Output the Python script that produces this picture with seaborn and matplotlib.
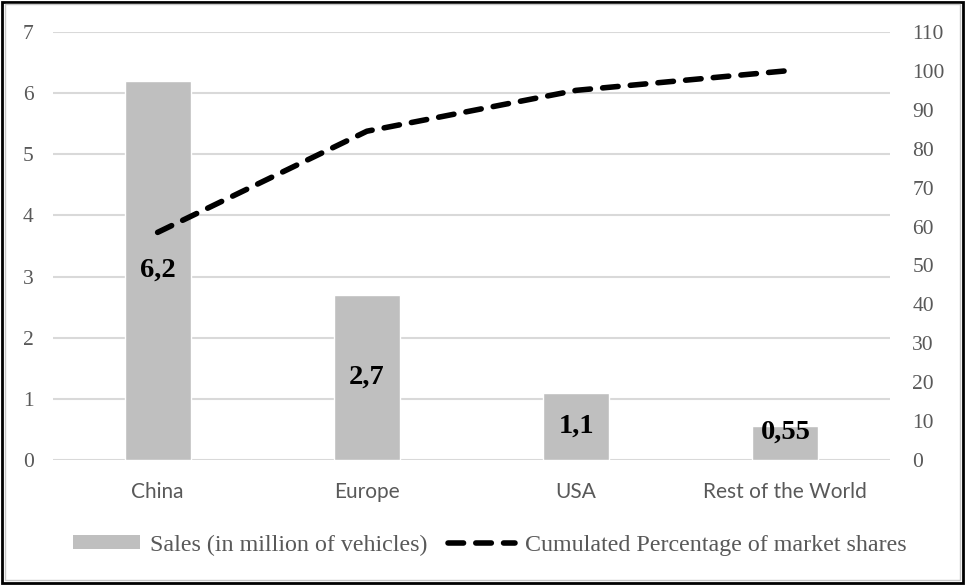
import numpy as np
import pandas as pd
import matplotlib
matplotlib.use("Agg")
import matplotlib.pyplot as plt
import seaborn as sns
from matplotlib.patches import Rectangle, Patch
from matplotlib.lines import Line2D

categories = ["China", "Europe", "USA", "Rest of the World"]
sales = [6.2, 2.7, 1.1, 0.55]
cum_pct = [58.5, 84.5, 95.0, 100.0]
sales_labels = ["6,2", "2,7", "1,1", "0,55"]
left_ticks = [0, 1, 2, 3, 4, 5, 6, 7]
right_ticks = [0, 10, 20, 30, 40, 50, 60, 70, 80, 90, 100, 110]

sns.set_theme(style="white")
plt.rcParams["font.family"] = ["Liberation Serif", "DejaVu Serif"]

df = pd.DataFrame({"cat": categories, "sales": sales, "pos": np.arange(len(categories)), "cum": cum_pct})

fig = plt.figure(figsize=(9.65, 5.85), dpi=100)
ax = fig.add_axes([53 / 965, 1 - 460 / 585, (890 - 53) / 965, (460 - 32) / 585])

sns.barplot(data=df, x="cat", y="sales", color="#bfbfbf", saturation=1, width=0.315, ax=ax, zorder=2)
ax.set_xlim(-0.5, 3.5)
ax.set_ylim(0, 7)
ax.set_yticks(left_ticks)
ax.yaxis.grid(True, color="#d9d9d9", linewidth=1.5, zorder=0)
ax.set_axisbelow(True)
ax.set_xlabel("")
ax.set_ylabel("")
for s in ax.spines.values():
    s.set_visible(False)
ax.tick_params(axis="y", length=0, pad=14, labelsize=15.5, labelcolor="#595959")
ax.tick_params(axis="x", length=0, pad=16, labelcolor="#595959")
for lab in ax.get_xticklabels():
    lab.set_fontfamily("Lato")
    lab.set_fontsize(15)

for i, (v, t) in enumerate(zip(sales, sales_labels)):
    ax.text(i, max(v / 2, 0.45), t, ha="center", va="center", fontsize=20.5,
            fontweight="bold", color="black", zorder=5)

ax2 = ax.twinx()
sns.lineplot(data=df, x="pos", y="cum", ax=ax2, color="black", linewidth=4.0,
             dashes=False, zorder=4)
ln = ax2.get_lines()[0]
ln.set_dashes((2.8, 2.2))
ln.set_dash_capstyle("round")
ax2.set_ylim(0, 110)
ax2.set_yticks(right_ticks)
ax2.set_xlim(-0.5, 3.5)
ax2.set_ylabel("")
ax2.set_xlabel("")
ax2.grid(False)
for s in ax2.spines.values():
    s.set_visible(False)
ax2.tick_params(axis="y", length=0, pad=16, labelsize=15.5, labelcolor="#595959")

handles = [Patch(facecolor="#bfbfbf", edgecolor="none"),
           Line2D([0], [0], color="black", linewidth=4.0, dashes=(2.8, 2.2), dash_capstyle="round")]
fig.legend(handles, ["Sales (in million of vehicles)", "Cumulated Percentage of market shares"],
           loc="center", bbox_to_anchor=(490 / 965, 1 - 545 / 585), ncol=2, frameon=False,
           fontsize=17.3, labelcolor="#595959", handlelength=2.8, handleheight=0.5,
           columnspacing=0.85, handletextpad=0.42)

fig.patches.append(Rectangle((0.002, 0.003), 0.996, 0.994, transform=fig.transFigure,
                             fill=False, edgecolor="black", linewidth=2.0))
fig.patches.append(Rectangle((0.005, 0.008), 0.99, 0.985, transform=fig.transFigure,
                             fill=False, edgecolor="#c8c8c8", linewidth=1.0))

fig.savefig("out.png", dpi=100)
